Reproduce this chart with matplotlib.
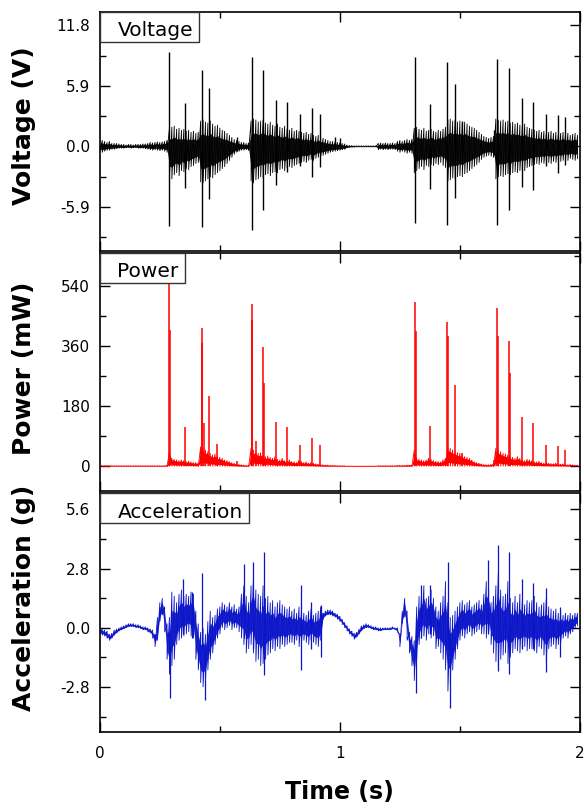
import numpy as np
import matplotlib
matplotlib.use("Agg")
import matplotlib.pyplot as plt
from matplotlib.patches import Rectangle
from matplotlib.ticker import MultipleLocator, FormatStrFormatter, FixedLocator

# ---------------- data ----------------
dt = 0.01
time_s = np.arange(200) * dt

# Voltage envelope (V): upper / lower extent of the dense band per 10 ms
V_hi = [0.5,0.6,0.5,0.4,0.5,0.3,0.3,0.3,0.25,0.2,0.2,0.15,0.2,0.2,0.15,0.2,0.2,0.2,0.25,0.25,
        0.3,0.4,0.35,0.4,0.45,0.4,0.45,0.5,0.6,1.8,1.9,2.0,1.7,1.8,1.6,1.7,1.5,1.6,1.4,1.5,
        1.3,1.4,2.5,2.6,2.4,2.3,2.5,2.2,2.0,2.1,1.8,1.6,1.5,1.3,1.1,0.9,0.7,0.6,0.5,0.4,
        0.4,0.3,0.35,2.5,2.7,2.6,2.4,2.5,2.6,2.3,2.2,2.4,2.1,2.0,2.2,1.9,1.8,2.0,1.7,1.6,
        1.8,1.5,1.6,1.5,1.4,1.3,1.4,1.2,1.3,1.1,1.0,1.1,0.9,0.8,0.7,0.6,0.5,0.5,0.45,0.4,
        0.35,0.3,0.25,0.15,0.1,0.08,0.06,0.05,0.05,0.05,0.05,0.05,0.05,0.05,0.05,0.05,0.3,0.35,0.3,0.35,
        0.3,0.3,0.35,0.3,0.5,0.6,0.5,0.6,0.7,0.6,0.7,1.8,1.9,1.7,1.6,1.8,1.5,1.6,1.7,1.5,
        1.4,1.6,1.5,1.7,1.9,2.6,2.7,2.5,2.6,2.4,2.5,2.3,2.4,2.2,2.0,1.9,1.8,1.6,1.4,1.2,
        1.0,0.9,0.8,0.9,1.0,2.7,2.6,2.5,2.6,2.4,2.5,2.3,2.4,2.2,2.3,2.1,2.0,2.2,1.9,1.8,
        1.7,1.6,1.5,1.6,1.4,1.5,1.3,1.4,1.5,1.3,1.4,1.2,1.3,1.4,1.2,1.3,1.1,1.2,1.3,1.1]
V_lo = [-0.5,-0.6,-0.5,-0.4,-0.4,-0.3,-0.3,-0.25,-0.2,-0.2,-0.2,-0.15,-0.15,-0.2,-0.15,-0.15,-0.2,-0.2,-0.2,-0.25,
        -0.3,-0.35,-0.4,-0.35,-0.4,-0.45,-0.4,-0.5,-0.6,-3.0,-3.2,-2.8,-2.6,-2.9,-2.4,-2.5,-2.2,-2.3,-2.0,-1.9,
        -1.7,-1.6,-3.5,-3.6,-3.4,-3.2,-3.0,-3.1,-2.8,-2.6,-2.4,-2.2,-2.0,-1.7,-1.4,-1.1,-0.8,-0.6,-0.5,-0.4,
        -0.4,-0.35,-0.4,-3.4,-3.6,-3.3,-3.2,-3.0,-3.1,-2.8,-2.7,-2.9,-2.6,-2.5,-2.6,-2.3,-2.2,-2.4,-2.1,-2.0,
        -2.1,-1.9,-1.8,-1.7,-1.6,-1.5,-1.6,-1.4,-1.3,-1.4,-1.2,-1.1,-1.0,-0.9,-0.8,-0.7,-0.6,-0.55,-0.5,-0.45,
        -0.4,-0.35,-0.3,-0.15,-0.1,-0.08,-0.06,-0.05,-0.05,-0.05,-0.05,-0.05,-0.05,-0.05,-0.05,-0.05,-0.35,-0.3,-0.35,-0.3,
        -0.35,-0.3,-0.3,-0.35,-0.5,-0.6,-0.5,-0.6,-0.7,-0.6,-0.7,-2.6,-2.4,-2.2,-2.0,-2.3,-1.9,-2.0,-1.8,-1.9,
        -1.7,-1.8,-1.6,-1.9,-2.1,-3.4,-3.3,-3.1,-3.2,-3.0,-2.9,-3.0,-2.7,-2.6,-2.4,-2.2,-2.0,-1.8,-1.6,-1.3,
        -1.1,-1.0,-0.9,-1.0,-1.1,-3.2,-3.0,-2.9,-3.0,-2.8,-2.7,-2.8,-2.6,-2.5,-2.6,-2.4,-2.3,-2.4,-2.1,-2.0,
        -1.9,-1.8,-1.7,-1.8,-1.6,-1.7,-1.5,-1.6,-1.7,-1.5,-1.6,-1.4,-1.5,-1.4,-1.3,-1.4,-1.2,-1.3,-1.4,-1.2]

# Voltage spikes: time (s), max (V), min (V)
V_spike_t   = [0.290,0.354,0.424,0.455,0.570,0.632,0.680,0.733,0.780,0.833,0.883,0.917,0.980,1.000,
               1.315,1.375,1.447,1.480,1.510,1.640,1.655,1.704,1.757,1.803,1.858,1.907,1.937]
V_spike_max = [9.2,4.2,7.5,5.7,0.9,8.7,7.5,4.5,4.3,3.2,3.7,3.2,0.9,0.8,
               8.7,4.1,8.2,6.1,2.5,1.6,8.5,7.6,4.7,4.3,3.2,3.1,2.9]
V_spike_min = [-7.8,-4.1,-7.9,-5.1,-0.5,-8.2,-6.2,-3.8,-2.5,-1.9,-3.0,-2.0,-0.3,-0.3,
               -7.5,-4.2,-7.7,-5.0,-1.5,-0.8,-7.7,-6.2,-4.0,-4.3,-1.9,-2.6,-1.8]

# Power envelope (mW) per 10 ms (excluding the sharp peaks)
P_hi = [2,2,2,2,2,2,2,2,2,2,2,2,2,2,2,2,2,2,2,2,
        2,2,2,2,2,2,2,2,3,45,25,22,20,18,20,18,15,16,14,12,
        12,10,60,55,50,45,40,35,38,30,28,25,20,18,15,12,10,8,6,5,
        4,3,3,55,50,45,40,42,35,30,32,28,25,30,22,20,25,18,16,20,
        15,14,12,20,15,12,14,10,12,10,8,7,6,5,4,4,3,3,3,2,
        2,2,2,1,1,1,1,1,1,1,1,1,1,1,1,1,2,2,2,2,
        2,2,2,2,3,3,3,3,4,4,4,50,25,22,20,18,20,25,22,18,
        16,15,14,20,25,60,55,50,45,42,40,35,30,28,25,20,15,12,10,8,
        6,5,5,6,8,55,50,45,40,38,35,30,28,25,30,25,20,18,22,20,
        18,15,14,16,12,10,12,10,9,8,10,8,7,8,6,5,6,5,4,4]
P_lo = [0.0] * 200

# Power peaks: time (s), peak (mW)
P_spike_t  = [0.290,0.293,0.354,0.424,0.427,0.432,0.455,0.490,0.570,0.632,0.635,0.650,0.680,0.683,
              0.733,0.780,0.833,0.883,0.917,1.315,1.318,1.375,1.447,1.450,1.480,1.510,1.640,
              1.655,1.658,1.704,1.707,1.757,1.803,1.858,1.907,1.937]
P_spike_pk = [550,410,117,415,370,130,210,68,16,486,440,77,358,250,
              132,117,63,86,64,494,405,120,433,390,245,40,20,
              475,390,376,280,147,129,64,62,50]

# Acceleration envelope (g) per 10 ms
A_hi = [0.0,-0.05,-0.1,-0.15,-0.3,-0.25,-0.1,-0.05,0.0,0.05,0.1,0.15,0.2,0.2,0.2,0.15,0.15,0.1,0.05,0.05,
        0.0,-0.05,-0.1,-0.3,0.5,1.2,1.4,1.0,0.2,0.5,1.7,1.5,1.2,1.6,1.8,1.5,1.6,1.5,1.7,1.6,
        0.8,0.2,-0.2,0.0,-0.3,0.3,0.8,0.5,0.6,0.9,1.0,1.2,1.1,1.0,1.2,1.0,1.1,0.9,1.0,1.6,
        2.0,1.5,1.2,2.0,2.4,1.8,1.6,1.5,2.0,1.4,1.5,1.2,1.3,1.0,1.2,1.3,1.1,1.0,0.9,1.0,
        0.8,0.9,0.7,1.0,0.8,0.7,0.6,0.8,0.9,0.6,0.7,0.8,1.0,0.7,0.8,0.85,0.85,0.8,0.7,0.65,
        0.55,0.4,0.25,0.1,-0.05,-0.15,-0.25,-0.2,-0.05,0.1,0.15,0.2,0.15,0.1,0.05,0.05,0.0,0.0,0.0,0.0,
        0.0,0.0,0.05,0.0,0.0,-0.3,0.8,1.4,0.8,-0.2,-0.4,-0.6,1.0,1.5,1.6,2.0,1.4,1.5,1.8,1.4,
        1.0,0.8,1.2,1.5,2.2,1.2,0.5,0.6,0.8,1.0,1.2,1.3,1.1,1.2,1.3,1.0,1.1,1.2,1.3,1.1,
        1.6,2.2,1.8,1.2,1.5,2.0,2.6,1.8,1.5,1.6,2.2,1.4,1.2,1.5,1.2,1.6,1.3,1.1,1.3,1.2,
        1.3,1.5,1.2,1.0,1.1,1.2,1.4,1.0,0.9,0.8,0.9,0.7,0.8,0.6,0.7,0.6,0.7,0.6,0.7,0.7]
A_lo = [-0.3,-0.35,-0.4,-0.5,-0.6,-0.5,-0.35,-0.25,-0.15,-0.1,-0.05,0.0,0.05,0.05,0.05,0.0,0.0,-0.05,-0.1,-0.1,
        -0.2,-0.25,-0.5,-0.9,-0.6,0.3,0.6,-0.2,-1.5,-2.2,-1.8,-1.5,-0.8,-0.6,-0.5,-0.4,-0.3,-0.2,-0.4,-0.5,
        -1.5,-2.0,-2.6,-2.8,-2.5,-2.0,-1.5,-1.2,-0.8,-0.5,-0.3,0.0,-0.1,0.0,0.1,-0.1,0.0,0.0,-0.2,-0.5,
        -0.8,-1.2,-1.0,-0.8,-1.2,-1.6,-1.5,-1.8,-1.7,-1.5,-1.3,-1.2,-1.0,-1.1,-0.9,-1.0,-0.8,-0.9,-0.8,-0.7,
        -0.7,-0.8,-0.6,-0.9,-0.7,-0.6,-0.7,-0.8,-0.6,-0.7,-0.8,-0.9,-0.6,0.4,0.55,0.6,0.6,0.55,0.5,0.4,
        0.3,0.15,0.0,-0.15,-0.3,-0.4,-0.55,-0.45,-0.3,-0.15,-0.05,0.0,0.0,-0.05,-0.1,-0.1,-0.15,-0.15,-0.1,-0.1,
        -0.1,-0.1,-0.05,-0.1,-0.2,-0.9,0.2,0.5,-0.6,-1.2,-1.8,-2.5,-1.5,-0.8,-0.5,-0.4,-0.6,-0.3,-0.5,-0.4,
        -1.0,-0.9,-1.2,-1.5,-2.0,-3.0,-2.6,-2.0,-1.5,-1.0,-0.6,-0.4,-0.5,-0.3,-0.2,-0.4,-0.3,-0.2,-0.1,-0.3,
        -0.3,-0.5,-0.2,-0.8,-1.2,-1.6,-1.8,-1.5,-1.3,-1.2,-1.7,-1.4,-1.2,-1.0,-1.1,-1.2,-1.0,-0.9,-1.1,-1.0,
        -1.0,-1.1,-1.2,-0.9,-1.0,-1.3,-1.6,-1.0,-0.9,-0.8,-1.0,-0.8,-0.7,-0.5,-0.4,-0.5,-0.3,-0.2,0.0,0.1]

# Acceleration spikes: time (s), max (g), min (g)
A_spike_t   = [0.294,0.345,0.383,0.424,0.437,0.600,0.639,0.683,0.838,0.880,0.920,
               1.319,1.340,1.375,1.450,1.458,1.615,1.660,1.705,1.757,1.806,1.860,1.917]
A_spike_max = [-0.5,2.3,1.7,2.6,-1.0,3.0,3.1,3.6,2.0,1.2,1.1,
               -0.5,2.0,2.0,3.1,-0.5,3.2,3.9,3.6,2.3,2.1,1.9,1.0]
A_spike_min = [-3.3,-0.3,-0.5,-1.0,-3.4,-0.5,-1.0,-2.25,-2.0,-1.0,-1.4,
               -3.1,-0.5,-0.3,-1.0,-3.8,-0.3,-2.05,-2.2,-1.0,-1.0,-2.1,-1.4]

V_ticks = [-5.9, 0.0, 5.9, 11.8]
P_ticks = [0, 180, 360, 540]
A_ticks = [-2.8, 0.0, 2.8, 5.6]
X_ticks = [0, 1, 2]

# ---------------- figure ----------------
plt.rcParams['font.family'] = ['DejaVu Sans']
fig = plt.figure(figsize=(5.84, 8.10), dpi=100)
gs = fig.add_gridspec(3, 1, left=0.171, right=0.993, top=0.985, bottom=0.0963, hspace=0.008)
axes = [fig.add_subplot(gs[i]) for i in range(3)]
for a in axes[1:]:
    a.sharex(axes[0])


def waveform(ax, t, hi, lo, color, lw, core=0.55, alpha=0.9):
    t = np.asarray(t, float)
    hi = np.asarray(hi, float)
    lo = np.asarray(lo, float)
    mid = 0.5 * (hi + lo)
    # dense core of the oscillation
    ax.fill_between(t, mid + core * (hi - mid), mid + core * (lo - mid),
                    color=color, alpha=alpha, lw=0)
    # oscillating trace between the extremes
    x = np.repeat(t, 2)
    y = np.column_stack([hi, lo]).ravel()
    ax.plot(x, y, color=color, lw=lw, solid_joinstyle='miter')


# Voltage
axv = axes[0]
waveform(axv, time_s, V_hi, V_lo, 'black', 0.6)
axv.vlines(V_spike_t, V_spike_min, V_spike_max, color='black', lw=1.0)
axv.set_ylim(-10.2, 13.1)
axv.yaxis.set_major_locator(FixedLocator(V_ticks))
axv.yaxis.set_minor_locator(MultipleLocator(2.95))
axv.yaxis.set_major_formatter(FormatStrFormatter('%.1f'))
axv.set_ylabel('Voltage (V)')

# Power
axp = axes[1]
waveform(axp, time_s, P_hi, P_lo, '#ff0000', 0.6, core=0.6, alpha=1.0)
axp.vlines(P_spike_t, 0, P_spike_pk, color='#ff0000', lw=1.1)
axp.set_ylim(-75, 641)
axp.yaxis.set_major_locator(FixedLocator(P_ticks))
axp.yaxis.set_minor_locator(MultipleLocator(90))
axp.yaxis.set_major_formatter(FormatStrFormatter('%d'))
axp.set_ylabel('Power (mW)')

# Acceleration
axa = axes[2]
waveform(axa, time_s, A_hi, A_lo, '#0a14c8', 0.6, core=0.5, alpha=0.9)
axa.vlines(A_spike_t, A_spike_min, A_spike_max, color='#0a14c8', lw=0.9)
axa.set_ylim(-4.92, 6.35)
axa.yaxis.set_major_locator(FixedLocator(A_ticks))
axa.yaxis.set_minor_locator(MultipleLocator(1.4))
axa.yaxis.set_major_formatter(FormatStrFormatter('%.1f'))
axa.set_ylabel('Acceleration (g)')
axa.set_xlabel('Time (s)', fontsize=17, fontweight='bold', labelpad=14)

label_y = [0.525, 0.515, 0.56]
for ax, ly in zip(axes, label_y):
    ax.set_xlim(0, 2)
    ax.xaxis.set_major_locator(FixedLocator(X_ticks))
    ax.xaxis.set_minor_locator(MultipleLocator(0.5))
    ax.tick_params(which='both', direction='in', top=True, right=True, width=1.0)
    ax.tick_params(which='major', length=7)
    ax.tick_params(which='minor', length=4)
    ax.tick_params(axis='y', which='major', labelsize=11, pad=7)
    ax.tick_params(axis='x', which='major', labelsize=11, pad=10)
    for s in ax.spines.values():
        s.set_linewidth(1.2)
    ax.yaxis.label.set_fontsize(18)
    ax.yaxis.label.set_fontweight('bold')
    ax.yaxis.set_label_coords(-0.132, ly)
for ax in axes[:2]:
    ax.tick_params(axis='x', labelbottom=False)

# Title boxes at the top-left corner of each panel
names = ['Voltage', 'Power', 'Acceleration']
texts = []
for ax, name in zip(axes, names):
    t = ax.text(0.0365, 0.898, name, transform=ax.transAxes, ha='left', va='baseline',
                fontsize=14.5, zorder=6)
    texts.append(t)
fig.canvas.draw()
r = fig.canvas.get_renderer()
box_h_px = 30
for ax, t in zip(axes, texts):
    bb = t.get_window_extent(renderer=r)
    abb = ax.get_window_extent(renderer=r)
    w = (bb.x1 + 6 - abb.x0) / abb.width
    h = box_h_px / abb.height
    ax.add_patch(Rectangle((0, 1 - h), w, h, transform=ax.transAxes, facecolor='white',
                           edgecolor='#333333', lw=1.0, zorder=5, clip_on=False))

fig.savefig('out.png', dpi=100)
